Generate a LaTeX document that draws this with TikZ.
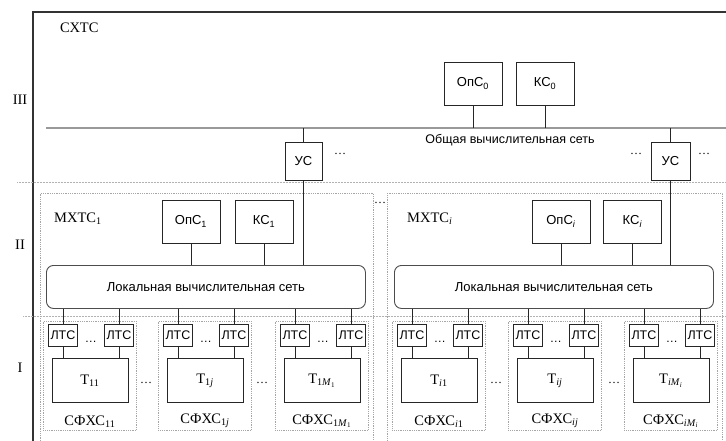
\documentclass[tikz,border=0pt]{standalone}
\usepackage{fontspec}
\setmainfont{Liberation Serif}
\setsansfont{Liberation Sans}
\usetikzlibrary{calc,positioning}
\newcommand{\sfxsgroup}[4]{%
    \node[grp, minimum width=93, minimum height=109, anchor=north west] (#1) at (#2,321) {};%
    \node[ltc, anchor=north west] (#1a) at ([xshift=5pt, yshift=-3pt]#1.north west) {ЛТС};%
    \node[ltc, anchor=north east] (#1b) at ([xshift=-3pt, yshift=-3pt]#1.north east) {ЛТС};%
    \node[font=\sffamily\fontsize{12}{14}\selectfont, inner sep=0pt] (#1d)
          at ($(#1a.south)!0.5!(#1b.south)+(0,-5)$) {\dots};%
    \node[tbox, anchor=north] (#1t) at ([yshift=-37pt]#1.north) {#3};%
    \node[lbl, anchor=south] (#1l) at ([yshift=2pt]#1.south) {#4};%
    \draw[link] (#1a) -- (#1a |- #1t.north);%
    \draw[link] (#1b) -- (#1b |- #1t.north);%
}

\begin{document}
\begin{tikzpicture}[
        x=1pt,
        y=-1pt,
        box/.style={draw=black!85, line width=0.9pt, inner sep=0pt, minimum width=58, minimum height=43,
                    font=\sffamily\fontsize{13}{15}\selectfont},
        ltc/.style={draw=black!85, line width=0.9pt, inner sep=0pt, minimum width=29, minimum height=22,
                    font=\sffamily\fontsize{12.5}{14}\selectfont},
        tbox/.style={draw=black!85, line width=0.9pt, inner sep=0pt, minimum width=76, minimum height=44,
                    font=\fontsize{14.5}{16}\selectfont},
        lan/.style={draw=black!70, line width=0.9pt, rounded corners=7pt, inner sep=0pt,
                    font=\sffamily\fontsize{13}{15}\selectfont},
        grp/.style={draw=gray!70, line width=0.9pt, dash pattern=on 0.9pt off 0.9pt, inner sep=0pt},
        sep/.style={draw=gray!60, line width=1pt, dash pattern=on 0.9pt off 0.6pt},
        link/.style={line width=0.9pt, draw=black!85},
        lbl/.style={font=\fontsize{14.5}{16}\selectfont, inner sep=1pt},
        dotsn/.style={font=\fontsize{12}{14}\selectfont, inner sep=0pt}
    ]
        \useasboundingbox (0,0) rectangle (726,441);
        \clip (0,0) rectangle (726,441);

        % === CADRE ET NIVEAUX ===
        \draw[draw=black!80, line width=1.4pt] (33,470) |- (760,12);
        \draw[sep] (17,183) -- (726,183);
        \draw[sep] (23,316) -- (726,316);
        \node[lbl] (lv3) at (20,100) {III};
        \node[lbl] (lv2) at (20,245) {II};
        \node[lbl] (lv1) at (20,368) {I};
        \node[lbl, anchor=west] (sxts) at (59,28) {СХТС};

        % === NIVEAU III ===
        \coordinate (netW) at (46,128);
        \coordinate (netE) at (740,128);
        \draw[draw=gray!80, line width=1.5pt] (netW) -- (netE);
        \node[font=\sffamily\fontsize{12.5}{14}\selectfont] (netl) at (510,140) {Общая вычислительная сеть};
        \node[box] (ops0) at (473,83.5) {ОпС\textsubscript{0}};
        \node[box] (ks0) at (545,83.5) {КС\textsubscript{0}};
        \node[box, minimum width=37, minimum height=38] (us1) at (303.5,161) {УС};
        \node[box, minimum width=39, minimum height=38] (us2) at (670.5,161) {УС};
        \node[dotsn] (dus1) at (340,154) {\dots};
        \node[dotsn] (dus2) at (636,154) {\dots};
        \node[dotsn] (dus3) at (704,154) {\dots};
        \draw[link] (ops0) -- (ops0 |- netW);
        \draw[link] (ks0) -- (ks0 |- netW);
        \draw[link] (us1) -- (us1 |- netW);
        \draw[link] (us2) -- (us2 |- netW);

        % === NIVEAU II ===
        \node[grp, minimum width=333, minimum height=250, anchor=north west] (mx1) at (40,193) {};
        \node[grp, minimum width=335, minimum height=250, anchor=north west] (mxi) at (387,193) {};
        \node[dotsn] (dmx1) at (380,203) {\dots};
        \node[dotsn] (dmx2) at (731,203) {\dots};
        \node[lbl, anchor=west] (mx1l) at (53,219) {МХТС\textsubscript{1}};
        \node[lbl, anchor=west] (mxil) at (406,219) {МХТС\textsubscript{\textit{i}}};
        \node[box] (ops1) at (191,221.5) {ОпС\textsubscript{1}};
        \node[box] (ks1) at (264,221.5) {КС\textsubscript{1}};
        \node[box] (opsi) at (561,221.5) {ОпС\textsubscript{\textit{i}}};
        \node[box] (ksi) at (632.5,221.5) {КС\textsubscript{\textit{i}}};
        \node[lan, minimum width=319, minimum height=43, anchor=north west] (lan1) at (46,265)
            {Локальная вычислительная сеть};
        \node[lan, minimum width=319, minimum height=43, anchor=north west] (lani) at (394,265)
            {Локальная вычислительная сеть};
        \draw[link] (ops1) -- (ops1 |- lan1.north);
        \draw[link] (ks1) -- (ks1 |- lan1.north);
        \draw[link] (us1) -- (us1 |- lan1.north);
        \draw[link] (opsi) -- (opsi |- lani.north);
        \draw[link] (ksi) -- (ksi |- lani.north);
        \draw[link] (us2) -- (us2 |- lani.north);

        % === NIVEAU I (groupes СФХС) ===
        % \sfxsgroup{nom}{x}{Т}{СФХС}
        \sfxsgroup{g11}{43}{Т\textsubscript{11}}{СФХС\textsubscript{11}}
        \sfxsgroup{g1j}{158}{Т\textsubscript{1\textit{j}}}{СФХС\textsubscript{1\textit{j}}}
        \sfxsgroup{g1m}{275}{Т\textsubscript{1\textit{M}\textsubscript{1}}}{СФХС\textsubscript{1\textit{M}\textsubscript{1}}}
        \sfxsgroup{gi1}{392}{Т\textsubscript{\textit{i}1}}{СФХС\textsubscript{\textit{i}1}}
        \sfxsgroup{gij}{508}{Т\textsubscript{\textit{ij}}}{СФХС\textsubscript{\textit{ij}}}
        \sfxsgroup{gim}{624}{Т\textsubscript{\textit{iM}\textsubscript{\textit{i}}}}{СФХС\textsubscript{\textit{iM}\textsubscript{\textit{i}}}}
        \node[dotsn] (dg1) at (146,383) {\dots};
        \node[dotsn] (dg2) at (262,383) {\dots};
        \node[dotsn] (dg3) at (496,383) {\dots};
        \node[dotsn] (dg4) at (614,383) {\dots};

        % === LIAISONS LAN -> ЛТС ===
        \draw[link] (lan1.south -| g11a) -- (g11a);
        \draw[link] (lan1.south -| g11b) -- (g11b);
        \draw[link] (lan1.south -| g1ja) -- (g1ja);
        \draw[link] (lan1.south -| g1jb) -- (g1jb);
        \draw[link] (lan1.south -| g1ma) -- (g1ma);
        \draw[link] (lan1.south -| g1mb) -- (g1mb);
        \draw[link] (lani.south -| gi1a) -- (gi1a);
        \draw[link] (lani.south -| gi1b) -- (gi1b);
        \draw[link] (lani.south -| gija) -- (gija);
        \draw[link] (lani.south -| gijb) -- (gijb);
        \draw[link] (lani.south -| gima) -- (gima);
        \draw[link] (lani.south -| gimb) -- (gimb);
    \end{tikzpicture}
\end{document}
